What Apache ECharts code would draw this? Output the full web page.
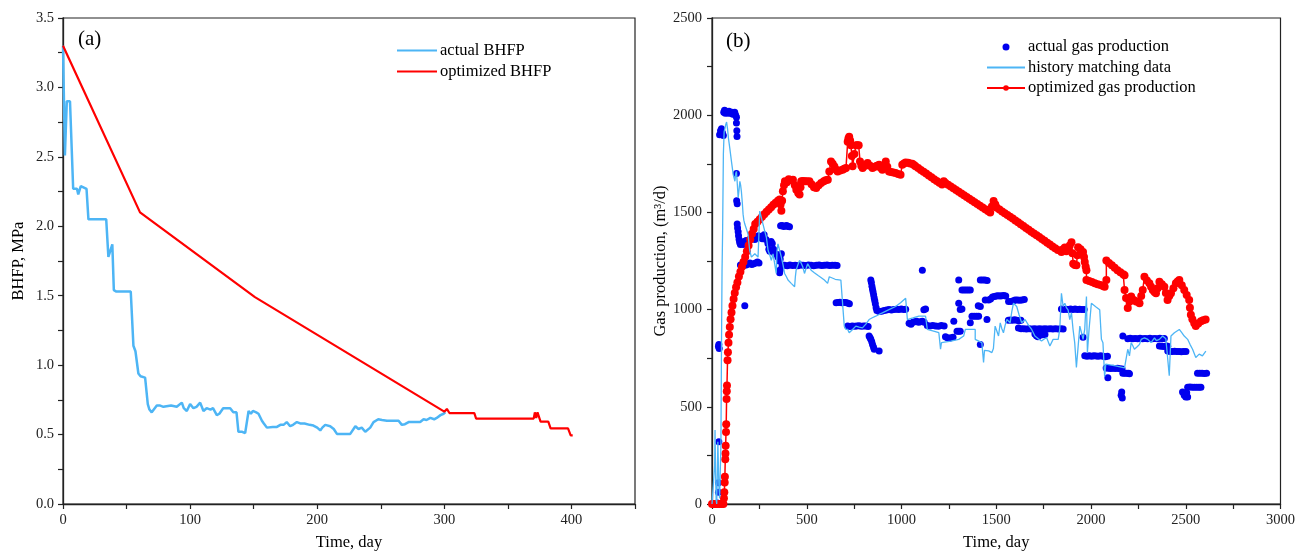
<!DOCTYPE html>
<html>
<head>
<meta charset="utf-8">
<script src="https://cdn.jsdelivr.net/npm/echarts@6/dist/echarts.min.js"></script>
<style>
html,body{margin:0;padding:0;background:#fff;}
#chart{width:1298px;height:556px;}
</style>
</head>
<body>
<div id="chart"></div>
<script>
// ---------- Panel (a): BHFP vs time ----------
const panelATitle = '(a)';
const panelBTitle = '(b)';
const bhfpNames = ['actual BHFP', 'optimized BHFP'];
const gasNames = ['actual gas production', 'history matching data', 'optimized gas production'];

const bhfpActual = [
[0,3.30],[1.5,2.51],[3,2.90],[5.5,2.90],[8,2.27],[11,2.27],[12,2.23],[14,2.29],[18.5,2.27],[20,2.05],[34,2.05],[35.7,1.78],[37,1.78],[38.8,1.87],[40,1.54],[42,1.53],[53.3,1.53],[55.4,1.14],[57,1.10],[59.3,0.94],[61,0.92],[64.6,0.91],[66.7,0.72],[68,0.68],[69.8,0.66],[71,0.67],[73.8,0.71],[76,0.71],[79,0.70],[85,0.71],[89.5,0.70],[91,0.71],[93.5,0.73],[95,0.69],[97.4,0.67],[100,0.72],[102.6,0.69],[105,0.70],[107.9,0.73],[110.5,0.67],[113,0.69],[116,0.68],[118,0.69],[121,0.64],[123,0.65],[126,0.69],[131.5,0.69],[134,0.66],[136.5,0.66],[138,0.52],[141,0.52],[143.3,0.51],[144.6,0.50],[146,0.67],[147.8,0.65],[149.4,0.67],[152,0.66],[153.8,0.65],[156.5,0.60],[158,0.58],[160.4,0.55],[165,0.555],[168.3,0.555],[171,0.57],[173.5,0.57],[176,0.59],[178.7,0.56],[181,0.57],[184,0.59],[186.6,0.58],[190,0.58],[194,0.57],[197,0.565],[200,0.55],[202.4,0.53],[204,0.55],[206.3,0.57],[210.2,0.56],[213,0.54],[215.5,0.505],[226,0.505],[230,0.56],[232.5,0.54],[235,0.55],[237.8,0.52],[241.7,0.55],[244.3,0.59],[248,0.61],[251,0.605],[254.8,0.60],[264,0.60],[266.6,0.57],[269,0.575],[271.9,0.59],[281,0.59],[283.7,0.61],[286,0.605],[289,0.62],[292,0.61],[294,0.62],[297,0.64],[298,0.63],[299.4,0.65],[300.8,0.66]
];
const bhfpOptimized = [
[0,3.30],[60.6,2.10],[151,1.49],[300,0.665],[302,0.685],[304,0.655],[323.6,0.655],[325,0.615],[370.3,0.615],[371.2,0.66],[372.3,0.62],[373.3,0.66],[374.5,0.66],[375.7,0.593],[381.8,0.593],[383.6,0.545],[397.3,0.545],[399.4,0.494],[401,0.494]
];

// ---------- Panel (b): gas production vs time ----------
const gasActual = [
[5,0],[12,0],[20,0],[28,5],[34,60],[34,109],[36,320],[34,810],[36,821],[38,800],
[40,1900],[45,1920],[50,1930],[55,1910],[60,1895],
[62,2015],[66,2025],[70,2010],[75,2020],[80,2015],[85,2010],[90,2020],[95,2012],[100,2010],[105,2015],[110,2005],[115,2010],[120,2015],[125,2000],[129,1990],[129,1960],[131,1920],[132,1890],
[129,1700],[130,1560],[133,1545],
[133,1440],[135,1420],[138,1400],[140,1380],[143,1360],[146,1345],[150,1335],[155,1340],[160,1345],[165,1335],[170,1350],[175,1345],[180,1355],[186,1340],[190,1330],
[150,1230],[160,1225],[170,1228],[180,1230],[190,1235],[200,1240],[210,1232],[220,1236],[230,1240],[240,1245],[248,1240],
[173,1020],
[226,1360],[235,1370],[245,1380],[255,1375],[265,1365],[275,1385],[285,1360],[295,1340],[300,1310],[305,1300],[312,1350],[318,1340],[325,1310],[330,1290],
[340,1285],[348,1270],[355,1250],[360,1260],[366,1287],[370,1230],[357,1190],[360,1205],
[362,1431],[370,1433],[378,1428],[386,1430],[394,1432],[402,1428],[409,1426],
[383,1228],[397,1226],[411,1229],[425,1227],[439,1228],[453,1226],[467,1229],[481,1228],[495,1227],[509,1229],[523,1228],[537,1226],[551,1228],[565,1229],[579,1227],[593,1228],[607,1229],[621,1227],[635,1228],[649,1228],[660,1227],
[655,1035],[665,1037],[675,1038],[685,1035],[695,1036],[705,1037],[715,1034],[725,1030],
[716,915],[728,913],[740,916],[752,914],[764,915],[776,917],[788,914],[800,916],[812,915],[824,913],
[838,1152],[841,1140],[844,1120],[847,1105],[850,1090],[853,1075],[856,1060],[859,1045],[862,1030],[866,1010],[870,995],
[829,864],[834,855],[838,847],[843,834],[847,821],[852,808],[856,796],[882,787],
[882,990],[895,992],[908,995],[921,998],[934,1000],[947,998],[960,1000],[973,1002],[986,1000],[999,1003],[1012,1000],[1022,1002],
[1040,930],[1050,925],[1060,935],[1070,938],[1080,940],[1090,935],[1100,938],[1110,940],[1120,935],
[1110,1203],[1118,999],[1127,1003],
[1136,918],[1150,915],[1165,918],[1180,916],[1195,914],[1210,918],[1225,915],
[1232,860],[1242,855],[1252,852],[1262,855],[1272,858],
[1276,940],[1293,889],[1302,889],[1310,889],
[1302,1152],[1319,1101],[1330,1101],[1341,1101],[1352,1101],[1363,1101],[1302,1033],[1319,1003],[1310,1000],[1363,932],[1372,966],[1384,966],[1396,966],[1407,966],[1416,1016],[1405,1020],[1416,821],
[1416,1152],[1428,1152],[1440,1152],[1452,1150],
[1442,1050],[1451,949],[1460,1050],[1470,1055],[1480,1065],[1490,1067],[1500,1070],[1510,1071],[1520,1070],[1530,1071],[1540,1072],[1550,1070],[1565,1042],[1578,1042],[1590,1045],[1600,1050],[1612,1050],[1624,1048],[1636,1050],[1648,1052],
[1564,945],[1575,947],[1586,945],[1597,948],[1608,945],[1620,943],[1630,945],
[1617,905],[1631,902],[1645,901],[1659,900],[1673,902],[1687,900],[1701,901],[1715,900],[1729,902],[1743,900],[1757,901],[1771,900],[1785,902],[1799,900],[1813,901],[1827,900],[1841,902],[1853,900],
[1704,875],[1712,866],[1720,860],[1730,868],[1745,870],[1757,872],
[1844,1003],[1856,1001],[1868,1002],[1880,1000],[1892,1003],[1904,1001],[1916,1003],[1928,1000],[1940,1002],[1952,1001],[1964,1000],
[1958,858],
[1967,762],[1979,760],[1991,762],[2003,760],[2015,762],[2027,761],[2039,760],[2051,762],[2063,760],[2075,758],[2087,760],
[2080,700],[2092,698],[2104,697],[2116,698],[2128,697],[2140,698],[2152,696],[2164,695],
[2089,649],
[2168,672],[2178,672],[2188,673],[2198,672],[2203,670],
[2168,864],[2159,559],[2162,576],[2165,545],
[2194,850],[2207,852],[2220,850],[2233,851],[2246,850],[2259,852],[2272,850],[2285,851],[2298,850],[2311,852],[2324,850],[2337,851],[2350,850],[2363,852],[2376,850],[2387,851],
[2361,813],[2373,812],[2385,810],[2397,813],[2405,812],
[2405,787],[2417,785],[2429,784],[2441,786],[2453,785],[2465,784],[2477,783],[2489,785],[2501,784],
[2483,576],[2492,560],[2500,550],[2510,550],[2505,572],
[2510,601],[2522,602],[2534,600],[2546,601],[2558,600],[2570,601],[2580,600],
[2562,672],[2574,673],[2586,672],[2598,671],[2610,672]
];

const gasHistory = [
[0,0],[10,0],[14,200],[16,381],[19,150],[22,20],[25,0],[28,150],[31,320],[33,330],[36,100],[40,30],[44,20],[47,300],[50,800],[53,1200],[56,1400],[60,1800],[64,1914],[68,1931],[72,1950],[77,1965],[82,1930],[87,1880],[94,1829],[103,1760],[112,1694],[121,1660],[125,1700],[129,1711],[134,1640],[138,1575],[143,1620],[147,1660],[151,1640],[155,1609],[160,1550],[164,1491],[168,1460],[173,1440],[180,1420],[190,1389],[195,1340],[199,1304],[208,1270],[217,1280],[226,1287],[235,1280],[243,1270],[248,1400],[252,1507],[260,1475],[269,1440],[278,1405],[287,1372],[296,1304],[305,1280],[313,1253],[322,1287],[330,1240],[339,1186],[343,1300],[348,1338],[357,1304],[366,1270],[375,1230],[383,1186],[392,1170],[401,1152],[418,1135],[436,1118],[440,1170],[444,1203],[453,1230],[462,1253],[470,1240],[479,1220],[488,1186],[496,1210],[505,1236],[514,1220],[523,1203],[540,1190],[560,1175],[575,1165],[593,1152],[610,1135],[614,1150],[619,1169],[628,1160],[650,1156],[680,1152],[689,1033],[698,915],[705,900],[716,898],[724,881],[733,881],[742,898],[759,915],[776,910],[794,906],[812,925],[829,949],[846,958],[864,966],[882,975],[899,983],[934,1000],[969,1016],[995,1035],[1022,1058],[1031,949],[1060,957],[1092,966],[1127,966],[1136,898],[1160,892],[1197,881],[1206,796],[1211,830],[1260,838],[1302,847],[1328,864],[1337,898],[1354,898],[1389,898],[1389,847],[1424,830],[1433,728],[1438,790],[1442,796],[1460,788],[1477,779],[1485,800],[1494,915],[1503,890],[1512,864],[1521,932],[1530,900],[1538,881],[1547,920],[1556,949],[1573,932],[1582,990],[1591,1033],[1608,1016],[1620,975],[1634,932],[1652,949],[1670,920],[1687,898],[1704,864],[1722,850],[1739,838],[1755,850],[1766,855],[1783,813],[1800,847],[1827,847],[1835,898],[1844,1084],[1853,1016],[1862,1033],[1870,1010],[1879,999],[1888,949],[1897,983],[1905,900],[1914,830],[1923,703],[1932,694],[1941,915],[1950,880],[1958,847],[1967,900],[1976,1067],[1981,779],[1990,900],[2002,1033],[2025,1015],[2046,999],[2055,847],[2063,830],[2072,655],[2078,720],[2130,710],[2177,700],[2194,796],[2203,762],[2212,830],[2220,815],[2229,796],[2245,810],[2256,821],[2265,847],[2282,855],[2300,847],[2317,830],[2335,855],[2345,840],[2361,847],[2378,864],[2395,850],[2405,840],[2413,660],[2422,864],[2440,881],[2466,898],[2480,880],[2492,864],[2510,847],[2523,820],[2536,796],[2553,754],[2571,771],[2588,762],[2606,787]
];

const gasOptimized = [
[0,0],[10,0],[20,0],[30,0],[40,0],[50,0],[60,0],[63,30],[65,60],[67,110],[68,140],[70,230],[71,260],[72,300],[74,370],[75,410],[77,540],[78,580],[79,610],[82,740],[84,780],[87,830],[90,870],[94,910],[98,950],[103,985],[108,1020],[114,1055],[120,1085],[127,1115],[134,1140],[142,1170],[150,1195],[158,1220],[166,1245],[175,1270],[184,1300],[193,1330],[202,1360],[211,1390],[220,1415],[228,1440],[240,1452],[252,1465],[264,1478],[276,1490],[288,1503],[300,1515],[312,1527],[324,1539],[336,1550],[348,1560],[357,1567],[362,1540],[366,1508],[370,1560],[374,1609],[380,1640],[385,1660],[395,1655],[405,1670],[415,1665],[427,1668],[437,1640],[445,1617],[455,1600],[462,1592],[467,1630],[471,1660],[480,1662],[490,1660],[500,1660],[514,1660],[525,1645],[538,1630],[550,1626],[563,1640],[576,1651],[590,1660],[600,1665],[611,1668],[619,1711],[628,1762],[637,1750],[646,1736],[655,1720],[663,1711],[676,1716],[689,1720],[698,1724],[707,1728],[716,1863],[720,1880],[724,1889],[729,1870],[733,1846],[738,1790],[742,1737],[751,1800],[760,1846],[767,1846],[774,1846],[781,1762],[788,1740],[795,1728],[808,1740],[821,1754],[834,1740],[847,1728],[860,1735],[870,1740],[882,1745],[890,1730],[899,1720],[908,1740],[917,1762],[925,1735],[934,1711],[945,1708],[957,1705],[969,1703],[982,1698],[995,1694],[1004,1745],[1013,1752],[1022,1757],[1035,1755],[1046,1752],[1057,1750],[1066,1744],[1074,1737],[1088,1728],[1102,1718],[1116,1709],[1130,1700],[1144,1690],[1158,1681],[1172,1671],[1186,1662],[1200,1652],[1214,1643],[1223,1660],[1232,1651],[1246,1642],[1260,1633],[1274,1624],[1288,1615],[1302,1606],[1316,1597],[1330,1588],[1344,1579],[1358,1570],[1372,1561],[1386,1552],[1400,1543],[1414,1534],[1428,1525],[1442,1516],[1456,1507],[1468,1499],[1477,1530],[1486,1558],[1495,1540],[1503,1524],[1517,1515],[1531,1505],[1545,1496],[1559,1486],[1573,1477],[1587,1468],[1601,1458],[1615,1449],[1629,1439],[1643,1430],[1657,1420],[1671,1411],[1685,1401],[1699,1392],[1713,1382],[1727,1373],[1741,1363],[1755,1354],[1769,1344],[1783,1335],[1797,1325],[1811,1316],[1825,1306],[1844,1296],[1853,1310],[1862,1320],[1870,1300],[1880,1310],[1888,1330],[1897,1347],[1902,1290],[1906,1236],[1915,1230],[1923,1228],[1928,1280],[1932,1321],[1945,1310],[1958,1296],[1963,1270],[1967,1245],[1972,1220],[1976,1202],[1976,1152],[1990,1147],[2005,1142],[2020,1136],[2035,1131],[2050,1126],[2063,1122],[2072,1118],[2081,1152],[2081,1253],[2095,1240],[2110,1228],[2125,1215],[2140,1203],[2155,1192],[2170,1182],[2177,1177],[2177,1101],[2185,1060],[2194,1008],[2203,1040],[2212,1067],[2225,1050],[2238,1042],[2247,1040],[2256,1033],[2265,1070],[2273,1101],[2282,1169],[2295,1150],[2308,1135],[2317,1118],[2326,1101],[2335,1090],[2343,1084],[2352,1110],[2361,1143],[2374,1130],[2387,1118],[2395,1085],[2404,1050],[2413,1070],[2422,1084],[2435,1110],[2448,1135],[2457,1145],[2466,1152],[2479,1125],[2492,1101],[2505,1075],[2518,1050],[2522,1010],[2527,974],[2535,950],[2545,930],[2553,915],[2566,928],[2580,940],[2592,945],[2605,949]
];

const FONT = 'Liberation Serif, Times New Roman, serif';
const LIGHT_BLUE = '#4DB5F5';
const RED = '#FF0000';
const DOT_BLUE = '#0000EE';
const LABEL_SIZE = 14.5;

function axisCommon(extra) {
  return Object.assign({
    type: 'value',
    nameLocation: 'middle',
    nameTextStyle: {fontFamily: FONT, fontSize: 16.5, color: '#000'},
    axisLine: {show: true, lineStyle: {color: '#222', width: 1.3}},
    axisTick: {show: true, inside: false, length: 5, lineStyle: {color: '#222', width: 1.2}},
    minorTick: {show: true, splitNumber: 2, length: 5, lineStyle: {color: '#222', width: 1.2}},
    splitLine: {show: false},
    minorSplitLine: {show: false},
    axisLabel: {fontFamily: FONT, fontSize: LABEL_SIZE, color: '#222', margin: 9, formatter: v => String(v)}
  }, extra);
}

const chart = echarts.init(document.getElementById('chart'), null, {renderer: 'canvas'});
const option = {
  animation: false,
  backgroundColor: '#fff',
  title: [
    {text: panelATitle, left: 78, top: 29, padding: 0, textStyle: {fontFamily: FONT, fontSize: 21, fontWeight: 'normal', color: '#000'}},
    {text: panelBTitle, left: 726, top: 31, padding: 0, textStyle: {fontFamily: FONT, fontSize: 21, fontWeight: 'normal', color: '#000'}}
  ],
  grid: [
    {left: 63, top: 18, width: 572, height: 492, show: true, borderColor: '#222', borderWidth: 1.2, backgroundColor: 'transparent'},
    {left: 712, top: 18, width: 572, height: 492, show: true, borderColor: '#222', borderWidth: 1.2, backgroundColor: 'transparent'}
  ],
  xAxis: [
    axisCommon({gridIndex: 0, min: 0, max: 450, interval: 100, name: 'Time, day', nameGap: 30,
      axisLabel: {fontFamily: FONT, fontSize: LABEL_SIZE, color: '#222', margin: 9, showMaxLabel: false, formatter: v => String(v)}}),
    axisCommon({gridIndex: 1, min: 0, max: 3000, interval: 500, name: 'Time, day', nameGap: 30})
  ],
  yAxis: [
    axisCommon({gridIndex: 0, min: 0, max: 3.5, interval: 0.5, name: 'BHFP, MPa', nameGap: 36,
      axisLabel: {fontFamily: FONT, fontSize: LABEL_SIZE, color: '#222', margin: 9, formatter: v => v.toFixed(1)}}),
    axisCommon({gridIndex: 1, min: 0, max: 2500, interval: 500, name: 'Gas production, (m³/d)', nameGap: 42,
      axisLabel: {fontFamily: FONT, fontSize: LABEL_SIZE, color: '#222', margin: 10, formatter: v => String(v)}})
  ],
  legend: [
    {
      orient: 'vertical', left: 396, top: 42, padding: 0, itemWidth: 40, itemHeight: 8, itemGap: 4,
      textStyle: {fontFamily: FONT, fontSize: 16.5, color: '#000', padding: [0, 0, 0, -2]},
      data: [
        {name: bhfpNames[0], itemStyle: {opacity: 0}},
        {name: bhfpNames[1], itemStyle: {opacity: 0}}
      ]
    },
    {
      orient: 'vertical', left: 986, top: 38.5, padding: 0, itemWidth: 38, itemHeight: 7, itemGap: 3.5,
      textStyle: {fontFamily: FONT, fontSize: 16.5, color: '#000', padding: [0, 0, 0, -2]},
      data: [
        {name: gasNames[0]},
        {name: gasNames[1], itemStyle: {opacity: 0}},
        {name: gasNames[2]}
      ]
    }
  ],
  series: [
    {
      name: bhfpNames[0], type: 'line', xAxisIndex: 0, yAxisIndex: 0,
      data: bhfpActual, showSymbol: false, symbol: 'none',
      lineStyle: {color: LIGHT_BLUE, width: 2.5}, itemStyle: {color: LIGHT_BLUE}, z: 3
    },
    {
      name: bhfpNames[1], type: 'line', xAxisIndex: 0, yAxisIndex: 0,
      data: bhfpOptimized, showSymbol: false, symbol: 'none',
      lineStyle: {color: RED, width: 2.2}, itemStyle: {color: RED}, z: 4
    },
    {
      name: gasNames[0], type: 'scatter', xAxisIndex: 1, yAxisIndex: 1,
      data: gasActual, symbol: 'circle', symbolSize: 7,
      itemStyle: {color: DOT_BLUE, opacity: 1}, z: 2
    },
    {
      name: gasNames[2], type: 'line', xAxisIndex: 1, yAxisIndex: 1,
      data: gasOptimized, symbol: 'circle', symbolSize: 8, showSymbol: true, showAllSymbol: true,
      lineStyle: {color: RED, width: 1.5}, itemStyle: {color: RED}, z: 3
    },
    {
      name: gasNames[1], type: 'line', xAxisIndex: 1, yAxisIndex: 1,
      data: gasHistory, showSymbol: false, symbol: 'none',
      lineStyle: {color: LIGHT_BLUE, width: 1.3}, itemStyle: {color: LIGHT_BLUE}, z: 4
    }
  ]
};
chart.setOption(option);
</script>
</body>
</html>
